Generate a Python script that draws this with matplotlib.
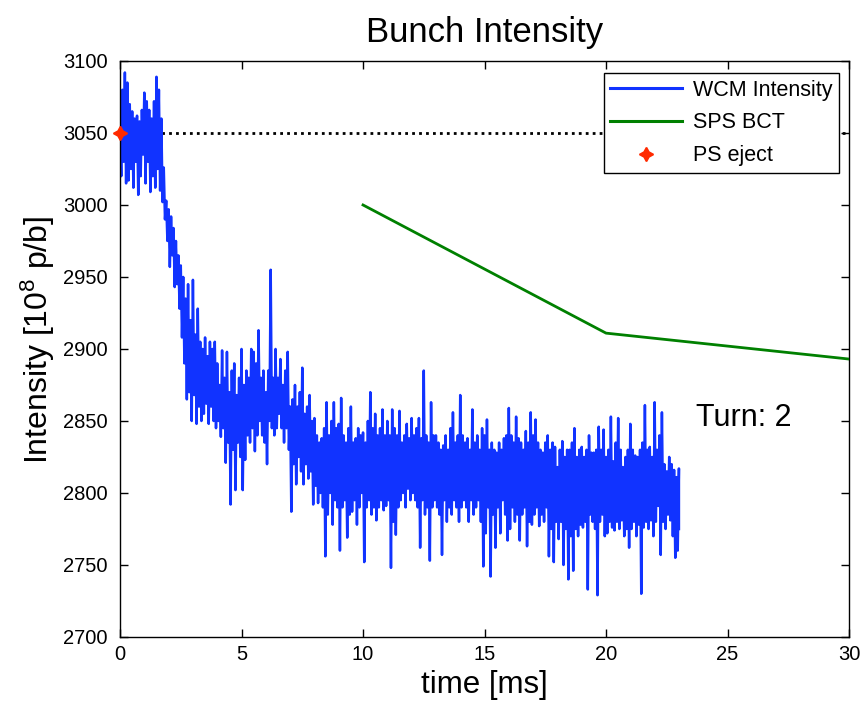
import numpy as np
import matplotlib
matplotlib.use("Agg")
import matplotlib.pyplot as plt

# ---- data -------------------------------------------------------------
# WCM intensity: local peaks at t = 0.0, 0.1, ... 23.0
wcm_peaks = [
    3055, 3080, 3092, 3085, 3070, 3065, 3060, 3062, 3058, 3066,   # 0.0-0.9
    3078, 3072, 3066, 3060, 3072, 3089, 3080, 3060, 3026, 3003,   # 1.0-1.9
    2997, 2992, 2984, 2975, 2965, 2958, 2950, 2935, 2945, 2920,   # 2.0-2.9
    2948, 2910, 2928, 2905, 2900, 2908, 2895, 2905, 2900, 2905,   # 3.0-3.9
    2890, 2875, 2899, 2880, 2898, 2870, 2885, 2890, 2868, 2880,   # 4.0-4.9
    2900, 2875, 2885, 2880, 2900, 2898, 2890, 2913, 2880, 2885,   # 5.0-5.9
    2870, 2885, 2955, 2880, 2900, 2880, 2893, 2875, 2885, 2898,   # 6.0-6.9
    2860, 2865, 2875, 2860, 2870, 2887, 2855, 2860, 2868, 2850,   # 7.0-7.9
    2852, 2840, 2835, 2838, 2845, 2863, 2840, 2850, 2863, 2845,   # 8.0-8.9
    2848, 2866, 2840, 2835, 2845, 2860, 2835, 2838, 2845, 2840,   # 9.0-9.9
    2842, 2835, 2850, 2870, 2845, 2855, 2840, 2845, 2858, 2840,   # 10.0-10.9
    2850, 2840, 2858, 2845, 2840, 2857, 2835, 2840, 2848, 2838,   # 11.0-11.9
    2852, 2840, 2845, 2852, 2838, 2885, 2840, 2835, 2863, 2840,   # 12.0-12.9
    2840, 2835, 2830, 2833, 2840, 2830, 2845, 2856, 2835, 2840,   # 13.0-13.9
    2868, 2840, 2835, 2838, 2830, 2858, 2835, 2840, 2830, 2845,   # 14.0-14.9
    2840, 2851, 2830, 2835, 2830, 2828, 2835, 2830, 2838, 2840,   # 15.0-15.9
    2859, 2840, 2835, 2853, 2838, 2835, 2830, 2843, 2835, 2856,   # 16.0-16.9
    2840, 2851, 2835, 2830, 2828, 2835, 2840, 2830, 2835, 2832,   # 17.0-17.9
    2818, 2830, 2836, 2825, 2830, 2830, 2835, 2845, 2825, 2830,   # 18.0-18.9
    2832, 2825, 2830, 2840, 2828, 2828, 2830, 2846, 2830, 2844,   # 19.0-19.9
    2825, 2830, 2853, 2822, 2835, 2852, 2830, 2818, 2825, 2830,   # 20.0-20.9
    2848, 2830, 2826, 2825, 2830, 2835, 2861, 2830, 2832, 2825,   # 21.0-21.9
    2863, 2830, 2840, 2856, 2820, 2815, 2825, 2820, 2816, 2811,   # 22.0-22.9
    2817,                                                         # 23.0
]
# ... and local troughs at t = 0.05, 0.15, ... 22.95 (last one = end stroke at 23.0)
wcm_troughs = [
    3020, 3030, 3015, 3017, 3025, 3012, 3030, 3007, 3020, 3035,   # 0.05-0.95
    3015, 3030, 3009, 3020, 3012, 3025, 3010, 3002, 2990, 2975,   # 1.05-1.95
    2957, 2965, 2943, 2945, 2928, 2908, 2890, 2865, 2870, 2850,   # 2.05-2.95
    2868, 2848, 2860, 2850, 2855, 2862, 2848, 2860, 2850, 2845,   # 3.05-3.95
    2850, 2839, 2845, 2821, 2835, 2792, 2830, 2802, 2835, 2825,   # 4.05-4.95
    2802, 2823, 2840, 2835, 2845, 2829, 2840, 2850, 2840, 2835,   # 5.05-5.95
    2820, 2850, 2845, 2840, 2845, 2855, 2845, 2835, 2845, 2830,   # 6.05-6.95
    2787, 2820, 2806, 2825, 2815, 2806, 2820, 2810, 2815, 2792,   # 7.05-7.95
    2805, 2793, 2800, 2790, 2756, 2785, 2800, 2778, 2795, 2790,   # 8.05-8.95
    2760, 2790, 2795, 2769, 2785, 2787, 2795, 2778, 2790, 2800,   # 9.05-9.95
    2752, 2790, 2795, 2785, 2790, 2781, 2790, 2795, 2788, 2791,   # 10.05-10.95
    2795, 2748, 2780, 2771, 2790, 2795, 2800, 2790, 2803, 2795,   # 11.05-11.95
    2800, 2795, 2790, 2762, 2795, 2785, 2790, 2753, 2790, 2795,   # 12.05-12.95
    2790, 2785, 2757, 2795, 2780, 2790, 2785, 2795, 2790, 2780,   # 13.05-13.95
    2790, 2795, 2790, 2780, 2795, 2785, 2790, 2795, 2780, 2749,   # 14.05-14.95
    2772, 2790, 2742, 2785, 2762, 2790, 2772, 2795, 2785, 2767,   # 15.05-15.95
    2775, 2790, 2780, 2785, 2767, 2785, 2790, 2763, 2780, 2778,   # 16.05-16.95
    2785, 2790, 2777, 2785, 2780, 2790, 2756, 2775, 2752, 2780,   # 17.05-17.95
    2768, 2780, 2750, 2775, 2740, 2770, 2746, 2775, 2770, 2778,   # 18.05-18.95
    2776, 2780, 2733, 2785, 2780, 2775, 2729, 2780, 2785, 2770,   # 19.05-19.95
    2772, 2780, 2776, 2774, 2780, 2775, 2781, 2770, 2775, 2762,   # 20.05-20.95
    2775, 2780, 2770, 2778, 2730, 2776, 2780, 2775, 2781, 2770,   # 21.05-21.95
    2780, 2791, 2757, 2780, 2775, 2785, 2781, 2770, 2755, 2760,   # 22.05-22.95
    2775,                                                         # 23.0
]
wcm_dt = 0.1
wcm_tend = 23.0

bct_time = [10, 20, 30]
bct_intensity = [3000, 2911, 2893]

ps_eject_time = [0]
ps_eject_intensity = [3050]
ref_level = 3050

xticks = [0, 5, 10, 15, 20, 25, 30]
yticks = [2700, 2750, 2800, 2850, 2900, 2950, 3000, 3050, 3100]

# ---- interleave peaks and troughs on one time axis --------------------
t_pk = np.arange(len(wcm_peaks)) * wcm_dt
t_tr = np.minimum(np.arange(len(wcm_troughs)) * wcm_dt + wcm_dt / 2, wcm_tend)
t_all = np.concatenate([t_pk, t_tr])
v_all = np.concatenate([wcm_peaks, wcm_troughs])
order = np.argsort(t_all, kind="stable")
wcm_time = t_all[order]
wcm_intensity = v_all[order]

# ---- style ------------------------------------------------------------
plt.rcParams["font.family"] = ["Liberation Sans", "DejaVu Sans"]
plt.rcParams["mathtext.fontset"] = "custom"
plt.rcParams["mathtext.rm"] = "Liberation Sans"
plt.rcParams["mathtext.it"] = "Liberation Sans"

fig = plt.figure(figsize=(8.61, 7.04), dpi=100)
ax = fig.add_axes([0.1394, 0.0952, 0.8467, 0.8182])

ax.plot([0, 30], [ref_level, ref_level], color="black",
        linestyle=(0, (1, 1.5)), linewidth=2.0, dash_capstyle="butt", zorder=1)
wcm, = ax.plot(wcm_time, wcm_intensity, color="#1133ff", linewidth=1.8,
               label="WCM Intensity", zorder=2)
bct, = ax.plot(bct_time, bct_intensity, color="#008000", linewidth=2.0,
               label="SPS BCT", zorder=3)
ps, = ax.plot(ps_eject_time, ps_eject_intensity, linestyle="none",
              marker=(4, 1, 0), markersize=10, color="#ff2a00",
              markeredgewidth=1.2, label="PS eject", zorder=4, clip_on=False)

ax.set_xlim(0, 30)
ax.set_ylim(2700, 3100)
ax.set_xticks(xticks)
ax.set_yticks(yticks)
ax.tick_params(direction="in", length=6, width=1, top=True, right=True,
               labelsize=14.5)
ax.tick_params(axis="x", pad=6)
ax.tick_params(axis="y", pad=9)
for s in ax.spines.values():
    s.set_linewidth(1.0)

ax.set_title("Bunch Intensity", fontsize=25, pad=14)
ax.set_xlabel("time [ms]", fontsize=22.5, labelpad=4)
ax.set_ylabel(r"Intensity [10$^8$ p/b]", fontsize=23, labelpad=8)
ax.yaxis.set_label_coords(-0.087, 0.515)

ax.text(23.72, 2852, "Turn: 2", fontsize=22, ha="left", va="center")

leg = ax.legend(handles=[wcm, bct, ps], loc="upper right",
                bbox_to_anchor=(0.9863, 0.979), borderaxespad=0.0,
                fontsize=15.5, frameon=True, fancybox=False, framealpha=1,
                edgecolor="black", handlelength=3.35, handletextpad=0.5,
                borderpad=0.3, labelspacing=0.55)
leg.get_frame().set_linewidth(1.0)
for ln in leg.get_lines():
    ln.set_linewidth(2.2)

fig.savefig("out.png", dpi=100)
